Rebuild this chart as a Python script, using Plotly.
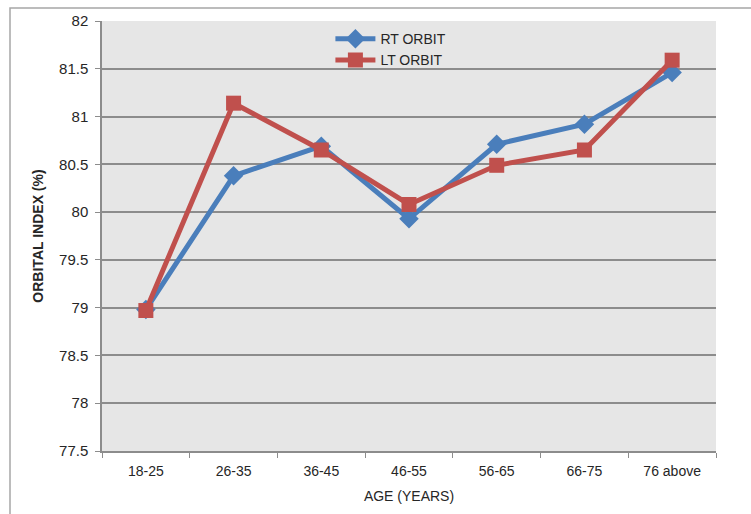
import plotly.graph_objects as go

age_groups = ["18-25", "26-35", "36-45", "46-55", "56-65", "66-75", "76 above"]
rt_orbit = [78.98, 80.38, 80.69, 79.93, 80.71, 80.92, 81.46]
lt_orbit = [78.97, 81.14, 80.65, 80.08, 80.49, 80.65, 81.59]
y_ticks = [77.5, 78, 78.5, 79, 79.5, 80, 80.5, 81, 81.5, 82]

FONT = "Liberation Sans Narrow, Liberation Sans, Arial, sans-serif"
BLUE = "#4a7ebb"
RED = "#c0504d"

W, H = 751, 514
L, R, T, B = 102, 35, 21, 63

fig = go.Figure()
fig.add_trace(go.Scatter(
    x=age_groups, y=rt_orbit, name="RT ORBIT", mode="lines+markers",
    line=dict(color=BLUE, width=5),
    marker=dict(symbol="diamond", size=15, color=BLUE),
))
fig.add_trace(go.Scatter(
    x=age_groups, y=lt_orbit, name="LT ORBIT", mode="lines+markers",
    line=dict(color=RED, width=5),
    marker=dict(symbol="square", size=15, color=RED),
))

pw = W - L - R
ph = H - T - B
# outer chart frame
fig.add_shape(
    type="rect", xref="paper", yref="paper",
    x0=(10 - L) / pw, x1=(W + 20 - L) / pw,
    y0=-(H + 20 - T - ph) / ph, y1=(H - B - 8) / ph,
    line=dict(color="#a6a6a6", width=1.5), fillcolor="rgba(0,0,0,0)",
    layer="below",
)

fig.update_layout(
    width=W, height=H,
    margin=dict(l=L, r=R, t=T, b=B),
    paper_bgcolor="white",
    plot_bgcolor="#e6e6e6",
    font=dict(family=FONT, size=14, color="#262626"),
    showlegend=True,
    legend=dict(
        x=0.372, y=0.995, xanchor="left", yanchor="top",
        bgcolor="rgba(0,0,0,0)", font=dict(size=14, color="#262626"),
        itemwidth=40, tracegroupgap=0,
    ),
    xaxis=dict(
        type="category", range=[-0.5, 6.5],
        showgrid=False, zeroline=False,
        showline=True, linecolor="#8c8c8c", linewidth=1.5,
        ticks="outside", tickson="boundaries", ticklen=5, tickcolor="#8c8c8c",
        ticklabelstandoff=6,
        title=dict(text="AGE (YEARS)", font=dict(size=14, color="#262626"), standoff=14),
        tickfont=dict(size=14),
    ),
    yaxis=dict(
        range=[77.5, 82], tickvals=y_ticks,
        ticktext=[f"{v:g}" for v in y_ticks],
        showgrid=True, gridcolor="#8c8c8c", gridwidth=1.5,
        zeroline=False,
        showline=True, linecolor="#8c8c8c", linewidth=1.5,
        ticks="outside", ticklen=5, tickcolor="#8c8c8c",
        ticklabelstandoff=4,
        title=dict(text="<b>ORBITAL INDEX (%)</b>", font=dict(size=14, color="#262626"), standoff=12),
        tickfont=dict(size=15),
    ),
)

fig.write_html("out.html")
